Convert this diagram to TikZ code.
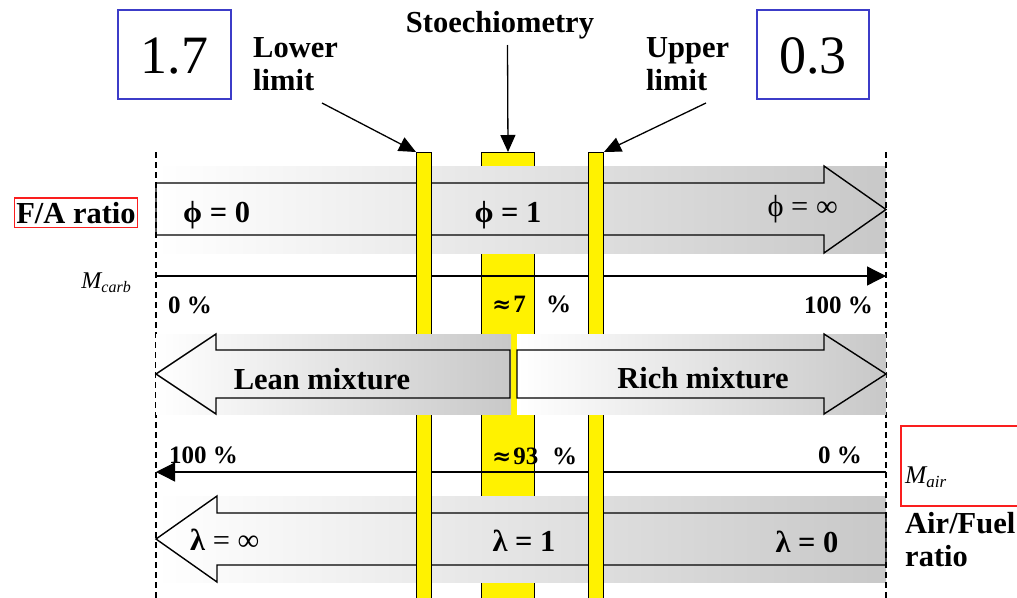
\documentclass[tikz,border=0pt]{standalone}
\usepackage{fontspec}
\setmainfont{Liberation Serif}
\newfontfamily\dvserif{DejaVu Serif}
\usetikzlibrary{arrows.meta}
\definecolor{frameblue}{RGB}{60,60,200}
\definecolor{framered}{RGB}{250,30,30}
\definecolor{bandgray}{RGB}{200,200,200}
\newcommand{\apx}{{\dvserif\bfseries\fontsize{23}{24}\selectfont ≈}\hspace{2pt}}
\begin{document}
\begin{tikzpicture}[x=1pt,y=-1pt,
  lbl/.style={font=\bfseries\fontsize{30.5}{33}\selectfont, inner sep=0pt},
  lblreg/.style={font=\fontsize{30.5}{33}\selectfont, inner sep=0pt},
  pct/.style={font=\bfseries\fontsize{25}{28}\selectfont, inner sep=0pt},
  big/.style={font=\fontsize{54}{56}\selectfont, inner sep=0pt},
  ybar/.style={draw=black, fill=yellow, line width=1pt, inner sep=0pt, anchor=north west},
  outl/.style={draw=black, line width=1.4pt, line join=miter},
  gband/.style={left color=white, right color=bandgray},
  vdash/.style={line width=1.5pt, dash pattern=on 6pt off 4pt},
  mline/.style={line width=1.3pt, -{Triangle[length=19pt,width=19pt]}},
  callout/.style={line width=1.3pt, -{Triangle[length=17pt,width=15pt]}},
  bluebox/.style={draw=frameblue, line width=1.5pt},
  redbox/.style={draw=framered, line width=1.5pt},
]
\clip (0,0) rectangle (1017,597);
\fill[white] (0,0) rectangle (1017,597);

% stoichiometry bar (lowest layer)
\node[ybar, minimum width=53pt, minimum height=460pt] (midbar) at (481,152) {};

% F/A row
\shade[gband] (156,166) rectangle (886,253);
\draw[outl] (156,183) -- (824,183) -- (824,166) -- (886,209.5) -- (824,253) -- (824,235) -- (156,235) -- cycle;
% lambda row
\shade[gband] (156,496) rectangle (886,582);
\draw[outl] (886,513) -- (217,513) -- (217,496) -- (156,539) -- (217,582) -- (217,565) -- (886,565) -- cycle;

% dashed limits
\coordinate (dlt) at (156,152); \coordinate (dlb) at (156,600);
\coordinate (drt) at (886,152); \coordinate (drb) at (886,600);
\draw[vdash] (dlt) -- (dlb);
\draw[vdash] (drt) -- (drb);

% mass axes
\coordinate (mc0) at (156,276); \coordinate (mc1) at (886,276);
\coordinate (ma0) at (156,472); \coordinate (ma1) at (886,472);
\draw[mline] (mc0) -- (mc1);
\draw[mline] (ma1) -- (ma0);

% limit bars
\node[ybar, minimum width=15pt, minimum height=460pt] (lowbar) at (416,152) {};
\node[ybar, minimum width=15pt, minimum height=460pt] (upbar) at (588,152) {};

% lean / rich row
\shade[gband] (156,334) rectangle (511,414);
\draw[outl] (510,350) -- (216,350) -- (216,334) -- (156,374) -- (216,414) -- (216,398) -- (510,398) -- cycle;
\shade[gband] (517,334) rectangle (886,414);
\draw[outl] (517,350) -- (824,350) -- (824,334) -- (886,374) -- (824,414) -- (824,398) -- (517,398) -- cycle;

% top boxes and labels
\draw[bluebox] (118,10) rectangle (231,99);
\node[big] (v17) at (174.5,56) {1.7};
\draw[bluebox] (757,10) rectangle (869,99);
\node[big] (v03) at (813,56) {0.3};

\node[lbl, anchor=base west] (lower1) at (253,57) {Lower};
\node[lbl, anchor=base west] (lower2) at (253,90) {limit};
\node[lbl, anchor=base] (stoech) at (500,32) {Stoechiometry};
\node[lbl, anchor=base west] (upper1) at (646,57) {Upper};
\node[lbl, anchor=base west] (upper2) at (646,90) {limit};

\coordinate (lowstart) at (322,103);
\coordinate (stoechstart) at (507.5,45);
\coordinate (upstart) at (706,103);
\draw[callout] (lowstart) -- (lowbar.north west);
\draw[callout] (stoechstart) -- (midbar.north);
\draw[callout] (upstart) -- (upbar.north east);

% F/A label
\node[lbl, redbox, inner xsep=2pt, inner ysep=4pt, anchor=base] (fa) at (76,223) {F/A ratio};

% phi labels
\node[lbl, anchor=base west] (phi0) at (183,222) {ϕ = 0};
\node[lbl, anchor=base] (phi1) at (508,222) {ϕ = 1};
\node[lblreg, anchor=base east] (phiinf) at (838,216) {ϕ = ∞};

% mass labels
\node[inner sep=0pt, anchor=base east, font=\itshape\fontsize{24}{26}\selectfont] (mcarb) at (131,288) {M\raisebox{-4pt}{\fontsize{16}{18}\selectfont carb}};
\node[pct, anchor=base west] (c0) at (168,313) {0 \%};
\node[pct, anchor=base east] (c100) at (873,313) {100 \%};
\node[pct, anchor=base west] (c7) at (492,312) {\apx 7};
\node[pct, anchor=base west] (c7p) at (546,312) {\%};

\node[lbl, anchor=base] (lean) at (322,389) {Lean mixture};
\node[lbl, anchor=base] (rich) at (703,388) {Rich mixture};

\node[pct, anchor=base west] (a100) at (169,463) {100 \%};
\node[pct, anchor=base west] (a93) at (492,464) {\apx 93};
\node[pct, anchor=base west] (a93p) at (552,464) {\%};
\node[pct, anchor=base east] (a0) at (862,463) {0 \%};

\draw[redbox] (901,426) rectangle (1030,506);
\node[inner sep=0pt, anchor=base west, font=\itshape\fontsize{25.5}{26}\selectfont] (mair) at (905,483) {M\raisebox{-4pt}{\fontsize{17}{18}\selectfont air}};

\node[lbl, anchor=base west] (af1) at (905,533) {Air/Fuel};
\node[lbl, anchor=base west] (af2) at (905,566) {ratio};

% lambda labels
\node[lblreg, anchor=base west] (linf) at (190,550) {\textbf{λ} = ∞};
\node[lbl, anchor=base] (l1) at (524,551) {λ = 1};
\node[lbl, anchor=base] (l0) at (807,552) {λ = 0};
\end{tikzpicture}
\end{document}
